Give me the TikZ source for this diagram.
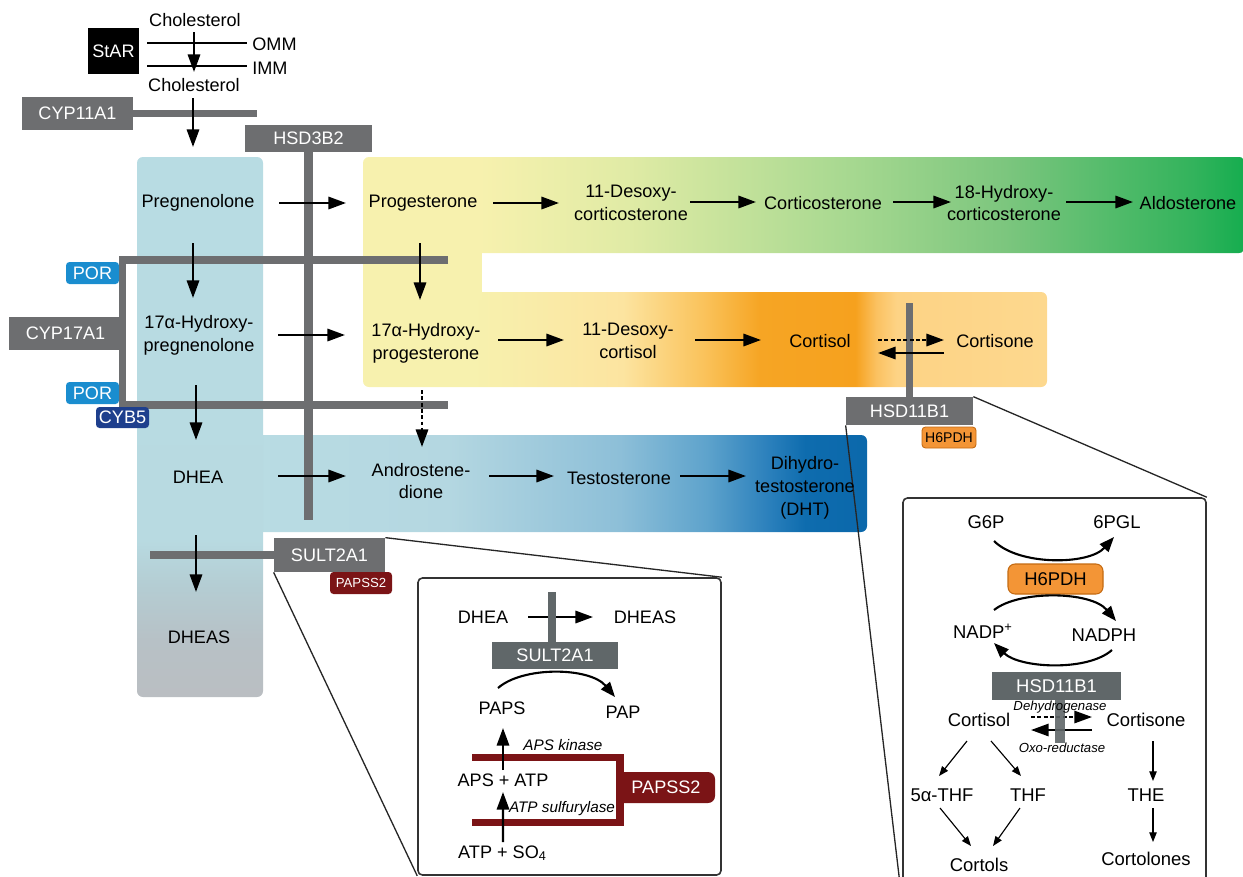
\documentclass[tikz,border=0pt]{standalone}
\usepackage{fontspec}
\setmainfont{Liberation Sans}
\usetikzlibrary{arrows.meta,calc}

\definecolor{enzg}{HTML}{6D6E70}
\definecolor{enzd}{HTML}{606769}
\definecolor{gy0}{HTML}{F7F1AE}
\definecolor{gy1}{HTML}{E0EBA5}
\definecolor{gy2}{HTML}{A6D890}
\definecolor{gy3}{HTML}{7CC67E}
\definecolor{gy4}{HTML}{33B35C}
\definecolor{gy5}{HTML}{15AD4F}
\definecolor{or1}{HTML}{FCE4A0}
\definecolor{or2}{HTML}{FAC25A}
\definecolor{or3}{HTML}{F6A524}
\definecolor{or4}{HTML}{F6A11E}
\definecolor{or5}{HTML}{FBC160}
\definecolor{or6}{HTML}{FDD385}
\definecolor{or7}{HTML}{FDD88E}
\definecolor{bb0}{HTML}{B9DCE3}
\definecolor{bb1}{HTML}{B4D7E1}
\definecolor{bb2}{HTML}{8DBFD8}
\definecolor{bb3}{HTML}{5EA3CC}
\definecolor{bb4}{HTML}{2B80BC}
\definecolor{bb5}{HTML}{0E6CAE}
\definecolor{bb6}{HTML}{0B68AB}
\definecolor{cg0}{HTML}{BABEC2}
\definecolor{cg1}{HTML}{B7C1C6}
\definecolor{cg2}{HTML}{B4CDD3}
\definecolor{cg3}{HTML}{B8DAE1}
\definecolor{cg4}{HTML}{B8DCE3}
\definecolor{porc}{HTML}{1A8DCF}
\definecolor{cybc}{HTML}{1E3F8D}
\definecolor{papc}{HTML}{7B1416}
\definecolor{h6c}{HTML}{F39536}
\definecolor{h6d}{HTML}{C46A12}

\pgfdeclarehorizontalshading{greenband}{100bp}{color(0bp)=(gy0); color(25bp)=(gy0); color(31.6bp)=(gy0); color(40bp)=(gy1); color(52.7bp)=(gy2); color(61.4bp)=(gy3); color(72bp)=(gy4); color(75bp)=(gy5); color(100bp)=(gy5)}
\pgfdeclarehorizontalshading{orangeband}{100bp}{color(0bp)=(gy0); color(25bp)=(gy0); color(33bp)=(gy0); color(44bp)=(or1); color(50bp)=(or2); color(54bp)=(or3); color(61bp)=(or4); color(62.5bp)=(or5); color(64bp)=(or6); color(75bp)=(or7); color(100bp)=(or7)}
\pgfdeclarehorizontalshading{blueband}{100bp}{color(0bp)=(bb0); color(25bp)=(bb0); color(41bp)=(bb1); color(55bp)=(bb2); color(62bp)=(bb3); color(67bp)=(bb4); color(70bp)=(bb5); color(75bp)=(bb6); color(100bp)=(bb6)}
\pgfdeclareverticalshading{bluecol}{100bp}{color(0bp)=(cg0); color(25bp)=(cg0); color(30.3bp)=(cg1); color(35.4bp)=(cg2); color(39.5bp)=(cg3); color(75bp)=(cg4); color(100bp)=(cg4)}

\newcommand\fmain{\fontsize{10.3}{13}\selectfont}
\newcommand\fright{\fontsize{10.5}{13}\selectfont}
\newcommand\fital{\fontsize{8.7}{10}\selectfont\itshape}
\newcommand\ftiny{\fontsize{7.5}{9}\selectfont\itshape}

\begin{document}
\begin{tikzpicture}[x=0.02cm, y=-0.02cm,
  txt/.style={font=\fmain, align=center, inner sep=0pt},
  rtxt/.style={font=\fright, align=center, inner sep=0pt},
  wh/.style 2 args={minimum width=#1*0.02cm, minimum height=#2*0.02cm},
  enz/.style={fill=enzg, text=white, font=\fmain, inner sep=0pt},
  bar/.style={draw=enzg, line width=4.5pt},
  arr/.style={-{Triangle[length=10pt,width=7pt]}, line width=1.3pt},
  darr/.style={arr, dash pattern=on 2.2pt off 1.4pt},
  carr/.style={-{Triangle[length=8.5pt,width=6.5pt]}, line width=1.2pt},
  tarr/.style={-{Triangle[length=5.5pt,width=4.2pt]}, line width=0.65pt},
  zl/.style={draw=black!85, line width=0.75pt},
  inset/.style={draw=black!80, fill=white, line width=0.9pt, rounded corners=2.5pt, inner sep=0pt},
  tag/.style={rounded corners=2pt, inner sep=0pt, text=white, font=\fmain},
]
\useasboundingbox (0,0) rectangle (1243,876);

% ---------- coloured backgrounds
\shade[shading=orangeband, rounded corners=3.4pt] (363,292) rectangle (1047,387);
\shade[shading=greenband, rounded corners=3.4pt] (363,157) rectangle (1245,253);
\fill[gy0] (363,245) rectangle (482,300);
\shade[shading=blueband, rounded corners=3.4pt] (250,435) rectangle (867,532);
\shade[shading=bluecol, rounded corners=3.4pt] (137,157) rectangle (263,697);

% ---------- insets
\node[inset, wh={303}{297}] (in1) at (569.5,726.5) {};
\node[inset, wh={303}{404}] (in2) at (1054.5,700) {};

% ---------- enzyme boxes
\node[fill=black, text=white, font=\fmain, inner sep=0pt, wh={51}{46}] (star) at (113.5,51) {StAR};
\node[enz, wh={111}{33}] (cyp11) at (77.5,113.5) {CYP11A1};
\node[enz, wh={127}{27}] (hsd3) at (308.5,138.5) {HSD3B2};
\node[enz, wh={113}{33}] (cyp17) at (65.5,333.5) {CYP17A1};
\node[enz, wh={111}{34}] (sult) at (329.5,555) {SULT2A1};
\node[enz, wh={127}{28}] (hsd11) at (909.5,411) {HSD11B1};
\node[enz, fill=enzd, wh={126}{27}] (isult) at (555,655.5) {SULT2A1};
\node[enz, fill=enzd, wh={129}{28}, font=\fright] (ihsd) at (1056.5,686) {HSD11B1};

% ---------- enzyme bars
\coordinate (c11e) at (257,113.5);
\draw[bar] (cyp11.east) -- (c11e);
\coordinate (h3e) at (308.5,520);
\draw[bar, line width=5pt] (hsd3.south) -- (h3e);
\coordinate (c17a) at (448,260);
\coordinate (c17b) at (448,405);
\draw[bar, line width=4pt, line join=miter] (c17a) -| (cyp17.east) |- (c17b);
\coordinate (sults) at (150,555);
\draw[bar, line width=4pt] (sults) -- (sult.west);
\coordinate (h11t) at (909.5,303);
\draw[bar] (hsd11.north) -- (h11t);
\coordinate (i1bt) at (552,592);
\draw[bar, draw=enzd] (i1bt) -- (i1bt |- isult.north);
\draw[draw=papc, line width=4pt, line join=miter] (472,757) -- (620,757) -- (620,822) -- (472,822);

% ---------- tags
\node[tag, fill=porc, wh={53}{22}] (por1) at (92.5,273) {POR};
\node[tag, fill=porc, wh={53}{22}] (por2) at (92.5,393) {POR};
\node[tag, fill=cybc, wh={53}{21}] (cyb5) at (122.5,417.5) {CYB5};
\node[tag, fill=papc, wh={62}{22}, font=\fontsize{7.5}{9}\selectfont] (paps2s) at (361,583) {PAPSS2};
\node[tag, fill=h6c, draw=h6d, line width=0.5pt, text=black, wh={54}{21}, font=\fontsize{8}{9}\selectfont] (h6s) at (949,437.5) {H6PDH};
\node[tag, fill=papc, wh={98}{31}, rounded corners=4pt] (pap2) at (666,787.5) {PAPSS2};
\node[tag, fill=h6c, draw=h6d, line width=0.6pt, text=black, wh={95}{30}, font=\fright, rounded corners=4pt] (h6b) at (1055.5,579) {H6PDH};

% ---------- zoom lines
\draw[zl] (sult.north east) -- (in1.north east);
\draw[zl] (sult.south west) -- (in1.south west);
\draw[zl] (hsd11.north east) -- (in2.north east);
\draw[zl] (hsd11.south west) -- (in2.south west);

% ---------- membrane
\node[txt] (chol1) at (195,20) {Cholesterol};
\node[txt] (chol2) at (194,85) {Cholesterol};
\node[txt, anchor=west] (omm) at (252,44) {OMM};
\node[txt, anchor=west] (imm) at (252,68) {IMM};
\coordinate (ommL) at (147,43);
\coordinate (immL) at (147,66);
\draw[line width=0.85pt, shorten >=2.8pt] (ommL) -- (ommL -| omm.west);
\draw[line width=0.85pt, shorten >=2.8pt] (immL) -- (immL -| imm.west);

% ---------- main texts
\node[txt] (preg) at (198,203) {Pregnenolone};
\node[txt] (prog) at (423,203) {Progesterone};
\node[txt] (doc) at (631,203) {11-Desoxy-\\corticosterone};
\node[txt] (cort) at (823,203) {Corticosterone};
\node[txt] (hoc) at (1004,203) {18-Hydroxy-\\corticosterone};
\node[txt] (aldo) at (1188,203) {Aldosterone};

\node[txt] (ohpreg) at (199,335) {17α-Hydroxy-\\pregnenolone};
\node[txt] (ohp) at (426,343) {17α-Hydroxy-\\progesterone};
\node[txt] (dc) at (628,341) {11-Desoxy-\\cortisol};
\node[txt] (cortisol) at (820,341) {Cortisol};
\node[txt] (cortisone) at (995,341) {Cortisone};

\node[txt] (dhea) at (198,477) {DHEA};
\node[txt] (andro) at (421,481) {Androstene-\\dione};
\node[txt] (testo) at (619,478) {Testosterone};
\node[txt] (dht) at (805,488) {Dihydro-\\testosterone\\(DHT)};
\node[txt] (dheas) at (199,637) {DHEAS};

% ---------- main arrows
\draw[arr] ($(chol1)+(-1,12)$) -- ($(chol2)+(0,-13)$);
\draw[arr] ($(chol2)+(-1,13)$) -- ($(preg)+(-5,-56)$);
\draw[arr] ($(preg)+(-5,40)$) -- ($(ohpreg)+(-6,-37)$);
\draw[arr] ($(ohpreg)+(-3,50)$) -- ($(dhea)+(-2,-37)$);
\draw[arr] ($(dhea)+(-2,58)$) -- ($(dheas)+(-3,-45)$);
\draw[arr] ($(prog)+(-3,40)$) -- ($(ohp)+(-6,-43)$);
\draw[darr] ($(ohp)+(-4,47)$) -- ($(andro)+(1,-34)$);

\draw[arr] ($(preg)+(81,0)$) -- ($(prog)+(-77,0)$);
\draw[arr] ($(prog)+(70,0)$) -- ($(doc)+(-72,0)$);
\draw[arr] ($(doc)+(59,-1)$) -- ($(cort)+(-67,-1)$);
\draw[arr] ($(cort)+(70,-1)$) -- ($(hoc)+(-53,-1)$);
\draw[arr] ($(hoc)+(62,-1)$) -- ($(aldo)+(-55,-1)$);

\draw[arr] ($(ohpreg)+(79,0)$) -- ($(ohp)+(-81,-8)$);
\draw[arr] ($(ohp)+(72,-3)$) -- ($(dc)+(-64,-1)$);
\draw[arr] ($(dc)+(67,-1)$) -- ($(cortisol)+(-59,-1)$);
\draw[darr] ($(cortisol)+(58,-1)$) -- ($(cortisone)+(-51,-1)$);
\draw[arr] ($(cortisone)+(-51,12)$) -- ($(cortisol)+(58,12)$);

\draw[arr] ($(dhea)+(80,-1)$) -- ($(andro)+(-75,-5)$);
\draw[arr] ($(andro)+(68,-5)$) -- ($(testo)+(-65,-2)$);
\draw[arr] ($(testo)+(61,-2)$) -- ($(dht)+(-59,-12)$);

% ---------- inset 1
\node[txt] (idhea) at (483,617) {DHEA};
\node[txt] (idheas) at (645,617) {DHEAS};
\node[txt] (paps) at (502,708) {PAPS};
\node[txt] (pap) at (623,712) {PAP};
\node[txt] (apsatp) at (503,780) {APS + ATP};
\node[txt] (atpso) at (502.5,853) {ATP + SO\textsubscript{4}};
\node[inner sep=0pt, font=\fital] (kin) at (563,745) {APS kinase};
\node[inner sep=0pt, font=\fital] (sulf) at (562,809) {ATP sulfurylase};
\draw[arr] ($(idhea)+(45,0)$) -- ($(idheas)+(-52,0)$);
\draw[bar, draw=enzd] (i1bt) -- ($(i1bt)+(0,30)$);
\draw[carr] ($(paps)+(-4,-20)$) .. controls +(25,-22) and +(-25,-30) .. ($(pap)+(-8,-15)$);
\draw[arr] ($(atpso)+(0.5,-11)$) -- ($(apsatp)+(0,12)$);
\draw[arr] ($(apsatp)+(0,-10)$) -- ($(paps)+(1,20)$);

% ---------- inset 2
\node[rtxt] (g6p) at (986,522) {G6P};
\node[rtxt] (pgl) at (1117,522) {6PGL};
\node[rtxt] (nadp) at (983,631) {NADP\textsuperscript{+}};
\node[rtxt] (nadph) at (1104,635) {NADPH};
\node[rtxt] (cortisolb) at (979,720) {Cortisol};
\node[rtxt] (cortisoneb) at (1146,720) {Cortisone};
\node[rtxt] (thfa) at (942,795) {5α-THF};
\node[rtxt] (thf) at (1028,795) {THF};
\node[rtxt] (the) at (1146,795) {THE};
\node[rtxt] (cortols) at (979,865) {Cortols};
\node[rtxt] (cortolones) at (1146,859) {Cortolones};
\draw[carr] ($(g6p)+(8,19)$) .. controls +(25,25) and +(-25,28) .. ($(pgl)+(-3,15)$);
\draw[carr] ($(nadp)+(11,-21)$) .. controls +(25,-20) and +(-25,-30) .. ($(nadph)+(12,-14)$);
\draw[carr] ($(nadph)+(8,15)$) .. controls +(-25,22) and +(25,25) .. ($(nadp)+(11,12)$);
\draw[darr, line width=1.1pt] ($(cortisolb)+(52,-3)$) -- ($(cortisoneb)+(-54,-3)$);
\draw[arr, line width=1.1pt] ($(cortisoneb)+(-54,10)$) -- ($(cortisolb)+(52,10)$);
\coordinate (i2bt) at (1060,743);
\draw[bar, draw=enzd, line width=5.5pt, opacity=0.9] (i2bt |- ihsd.south) -- (i2bt);
\node[inner sep=0pt, font=\ftiny] (dehy) at (1060,707) {Dehydrogenase};
\node[inner sep=0pt, font=\ftiny] (oxo) at (1062,748) {Oxo-reductase};
\draw[tarr] ($(cortisolb)+(-12,21)$) -- ($(thfa)+(-3,-19)$);
\draw[tarr] ($(cortisolb)+(12,21)$) -- ($(thf)+(-7,-19)$);
\draw[tarr] ($(cortisoneb)+(7,21)$) -- ($(the)+(7,-14)$);
\draw[tarr] ($(thfa)+(-2,13)$) -- ($(cortols)+(-8,-19)$);
\draw[tarr] ($(thf)+(-8,13)$) -- ($(cortols)+(14,-19)$);
\draw[tarr] ($(the)+(7,13)$) -- ($(cortolones)+(7,-17)$);
\end{tikzpicture}
\end{document}
